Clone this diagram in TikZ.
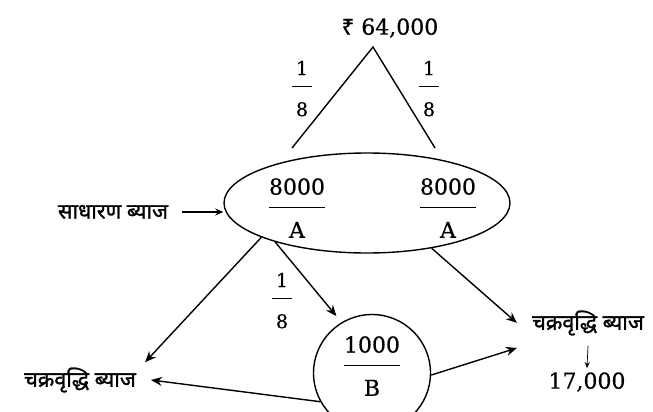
\documentclass[tikz,border=0pt]{standalone}
\usepackage{fontspec}
\setmainfont{DejaVu Serif}[FakeBold=0.6]
\newfontfamily\hin[Script=Devanagari, FakeBold=1.2]{Noto Sans}
\usepackage{tikz}
\usetikzlibrary{shapes.geometric, arrows.meta, positioning, calc}

% fraction with a bar: numerator, rule, denominator
\newcommand{\frc}[2]{\setlength{\arrayrulewidth}{1.3pt}%
  \begin{tabular}{@{}c@{}}#1\rule[-12pt]{0pt}{12pt}\\\hline\rule{0pt}{30pt}#2\end{tabular}}
\newcommand{\frs}[2]{\setlength{\arrayrulewidth}{1.2pt}%
  \begin{tabular}{@{}c@{}}\makebox[20pt]{#1}\rule[-11pt]{0pt}{11pt}\\\hline\rule{0pt}{29pt}#2\end{tabular}}

\begin{document}
\begin{tikzpicture}[
    x=1pt, y=-1pt,
    num/.style={font=\fontsize{22}{26}\selectfont, inner sep=0pt},
    small/.style={font=\fontsize{19}{23}\selectfont, inner sep=0pt},
    hindi/.style={font=\hin\fontsize{21.5}{25}\selectfont, inner sep=0pt},
    ring/.style={draw, line width=1.4pt},
    line/.style={line width=1.4pt},
    arrow/.style={-{Stealth[length=11pt, width=9pt]}, line width=1.4pt}
]
    \useasboundingbox (0,0) rectangle (653,412);

    % top amount and its split
    \node[num] (total) at (390,28) {{\hin ₹} 64,000};
    \coordinate (apex) at (373,47);
    \coordinate (left) at (292,148);
    \coordinate (right) at (435,148);
    \draw[line] (left) -- (apex) -- (right);
    \node[small] (p1) at (302,91) {\frs{1}{8}};
    \node[small] (p2) at (429,91) {\frs{1}{8}};

    % simple interest parts
    \node[ring, ellipse, minimum width=286pt, minimum height=100pt] (el) at (367,203) {};
    \node[num] (a1) at (297,211) {\frc{8000}{A}};
    \node[num] (a2) at (448,211) {\frc{8000}{A}};
    \node[hindi] (si) at (113,212) {साधारण ब्याज};
    \draw[arrow, -{Stealth[length=8pt, width=7pt]}] ([xshift=14pt]si.east) -- (si.east -| el.west);

    % compound interest part
    \node[ring, circle, minimum size=117pt] (cb) at (372,373) {};
    \node[num] (b) at (372,369) {\frc{1000}{B}};
    \node[small] (p3) at (282,303) {\frs{1}{8}};

    \node[hindi] (cl) at (80,380) {चक्रवृद्धि ब्याज};
    \node[hindi] (cr) at (588,323) {चक्रवृद्धि ब्याज};
    \node[num] (val) at (587,382) {17,000};

    \draw[arrow] (el.198) -- ([shift={(9pt,5pt)}]cl.north east);
    \draw[arrow, shorten >=8pt] (el.203) -- (cb.121);
    \draw[arrow] (el.325) -- ([xshift=-15pt]cr.west);
    \draw[arrow] (cb.209) -- ([xshift=15pt]cl.east);
    \draw[arrow] (cb.358) -- ([shift={(-15pt,-25pt)}]cr.west);
    \draw[-{Stealth[length=6pt, width=5pt]}, line width=0.7pt] ([yshift=-10pt]cr.south) -- ([yshift=4pt]val.north);
\end{tikzpicture}
\end{document}
